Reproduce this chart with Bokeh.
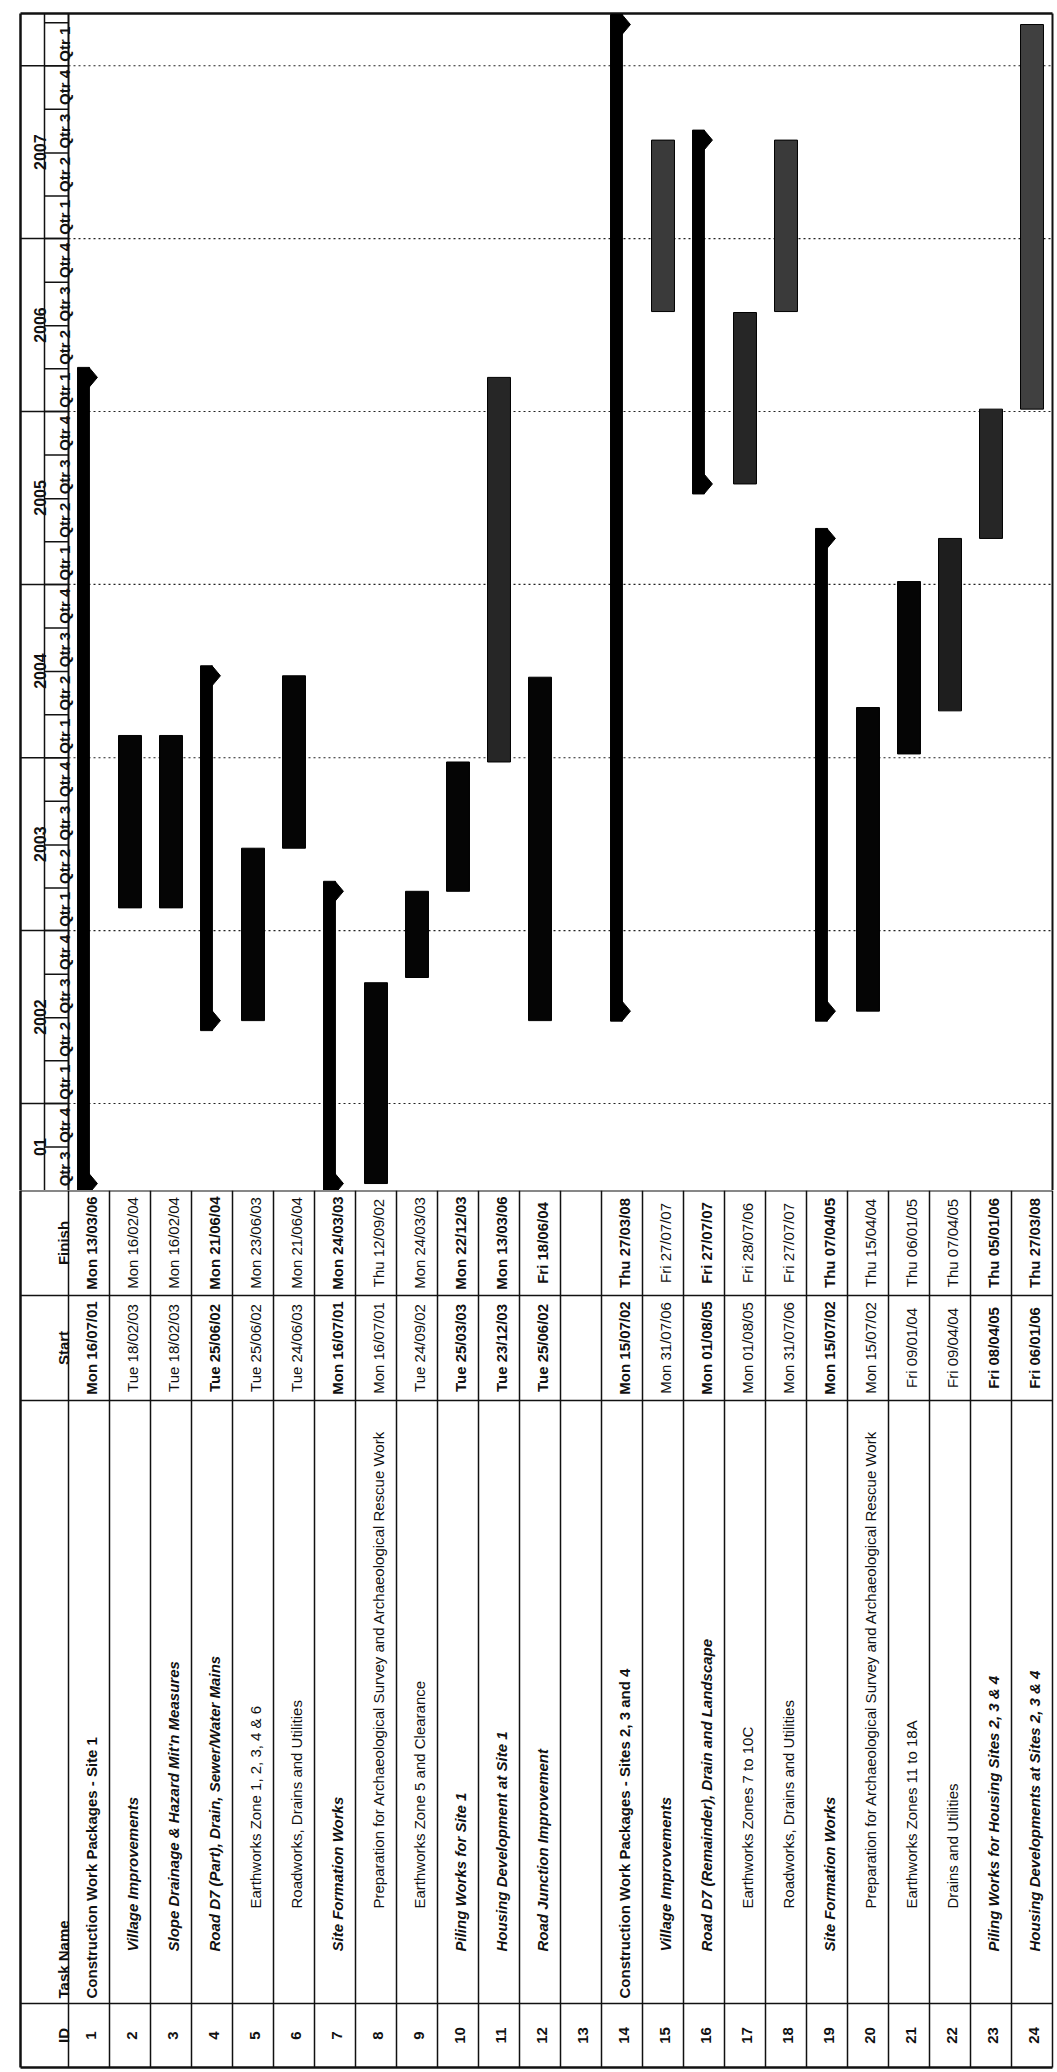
import math
from datetime import datetime, timedelta

from bokeh.plotting import figure
from bokeh.layouts import column
from bokeh.models import ColumnDataSource, Range1d
from bokeh.core.properties import value, field
from bokeh.embed import file_html
from bokeh.resources import INLINE

# ---------------- data ----------------
task_ids = [str(i) for i in range(1, 25)]
task_names = [
    "Construction Work Packages - Site 1",
    "Village Improvements",
    "Slope Drainage & Hazard Mit'n Measures",
    "Road D7 (Part), Drain, Sewer/Water Mains",
    "Earthworks Zone 1, 2, 3, 4 & 6",
    "Roadworks, Drains and Utilities",
    "Site Formation Works",
    "Preparation for Archaeological Survey and Archaeological Rescue Work",
    "Earthworks Zone 5 and Clearance",
    "Piling Works for Site 1",
    "Housing Development at Site 1",
    "Road Junction Improvement",
    "",
    "Construction Work Packages - Sites 2, 3 and 4",
    "Village Improvements",
    "Road D7 (Remainder), Drain and Landscape",
    "Earthworks Zones 7 to 10C",
    "Roadworks, Drains and Utilities",
    "Site Formation Works",
    "Preparation for Archaeological Survey and Archaeological Rescue Work",
    "Earthworks Zones 11 to 18A",
    "Drains and Utilities",
    "Piling Works for Housing Sites 2, 3 & 4",
    "Housing Developments at Sites 2, 3 & 4",
]
start_labels = [
    "Mon 16/07/01", "Tue 18/02/03", "Tue 18/02/03", "Tue 25/06/02", "Tue 25/06/02",
    "Tue 24/06/03", "Mon 16/07/01", "Mon 16/07/01", "Tue 24/09/02", "Tue 25/03/03",
    "Tue 23/12/03", "Tue 25/06/02", "", "Mon 15/07/02", "Mon 31/07/06",
    "Mon 01/08/05", "Mon 01/08/05", "Mon 31/07/06", "Mon 15/07/02", "Mon 15/07/02",
    "Fri 09/01/04", "Fri 09/04/04", "Fri 08/04/05", "Fri 06/01/06",
]
finish_labels = [
    "Mon 13/03/06", "Mon 16/02/04", "Mon 16/02/04", "Mon 21/06/04", "Mon 23/06/03",
    "Mon 21/06/04", "Mon 24/03/03", "Thu 12/09/02", "Mon 24/03/03", "Mon 22/12/03",
    "Mon 13/03/06", "Fri 18/06/04", "", "Thu 27/03/08", "Fri 27/07/07",
    "Fri 27/07/07", "Fri 28/07/06", "Fri 27/07/07", "Thu 07/04/05", "Thu 15/04/04",
    "Thu 06/01/05", "Thu 07/04/05", "Thu 05/01/06", "Thu 27/03/08",
]
is_summary = [1, 0, 0, 1, 0, 0, 1, 0, 0, 0, 0, 0, 0, 1, 0, 1, 0, 0, 1, 0, 0, 0, 0, 0]
outline_level = [1, 2, 2, 2, 3, 3, 2, 3, 3, 2, 2, 2, 0, 1, 2, 2, 3, 3, 2, 3, 3, 3, 2, 2]
date_bold = [1, 0, 0, 1, 0, 0, 1, 0, 0, 1, 1, 1, 0, 1, 0, 1, 0, 0, 1, 0, 0, 0, 1, 1]
year_labels = ["01", "2002", "2003", "2004", "2005", "2006", "2007"]
quarter_labels = ["Qtr 1", "Qtr 2", "Qtr 3", "Qtr 4"]
header_labels = ["Finish", "Start", "Task Name", "ID"]

# ---------------- styles / layout ----------------
FONT = value("Liberation Sans")
INK = "#111111"
BAR_SHADE = {11: "#262626", 15: "#3a3a3a", 17: "#262626", 18: "#3a3a3a",
             22: "#1e1e1e", 23: "#262626", 24: "#404040"}
W, H = 1057, 2072
GANTT_H = 1190
TABLE_H = H - GANTT_H
ROW_W = 41.0
ROW0_PX = 68.0


def xu(px):
    return 0.5 + (px - ROW0_PX) / ROW_W


PX_PER_DAY = 173.0 / 365.25
REF = datetime(2002, 1, 1)
REF_PX = 1103.0
EPOCH = datetime(1970, 1, 1)


def ms(dt):
    return (dt - EPOCH).total_seconds() * 1000.0


def px2date(px):
    return REF + timedelta(days=(REF_PX - px) / PX_PER_DAY)


def parse(lbl):
    return datetime.strptime(lbl.split()[1], "%d/%m/%y")


FRAME_L = xu(20)
TIER_X = xu(44)
RIGHT = 24.5
CAP = timedelta(days=10 / PX_PER_DAY)
TIP = 8 / ROW_W

x_range = Range1d(xu(0), xu(W))


def base_fig(h, yr):
    p = figure(width=W, height=h, x_range=x_range, y_range=yr,
               output_backend="svg", toolbar_location=None, min_border=0,
               x_axis_location=None, y_axis_location=None,
               background_fill_color="white", border_fill_color="white")
    p.outline_line_color = None
    p.xgrid.visible = False
    p.ygrid.visible = False
    return p


# ================= Gantt part =================
g_bottom = px2date(GANTT_H)
g_top = px2date(0)
g = base_fig(GANTT_H, Range1d(ms(g_bottom), ms(g_top)))
frame_top = px2date(13)
first_q = datetime(2001, 7, 1)

# dotted year lines
yl = [datetime(y, 1, 1) for y in range(2002, 2009)]
g.segment(x0=0.5, x1=RIGHT, y0=[ms(d) for d in yl], y1=[ms(d) for d in yl],
          line_color="#222222", line_width=1.2, line_dash="2 3")

# timescale header grid
g.segment(x0=[FRAME_L, TIER_X, 0.5, RIGHT], x1=[FRAME_L, TIER_X, 0.5, RIGHT],
          y0=ms(g_bottom - timedelta(days=30)), y1=ms(frame_top),
          line_color=INK, line_width=[2.5, 1.5, 2, 2])
g.segment(x0=FRAME_L, x1=RIGHT, y0=ms(frame_top), y1=ms(frame_top),
          line_color=INK, line_width=2.5)
g.segment(x0=FRAME_L, x1=0.5, y0=[ms(d) for d in yl], y1=[ms(d) for d in yl],
          line_color=INK, line_width=1.5)
q_starts = []
q_mid = []
q_text = []
for k in range(27):
    y = 2001 + (6 + 3 * k) // 12
    m = (6 + 3 * k) % 12 + 1
    qs = datetime(y, m, 1)
    ny = y + (m + 2) // 12
    nm = (m + 2) % 12 + 1
    qe = datetime(ny, nm, 1)
    q_starts.append(qe)
    q_mid.append(ms(qs + (qe - qs) / 2))
    q_text.append(quarter_labels[(m - 1) // 3])
g.segment(x0=TIER_X, x1=0.5, y0=[ms(d) for d in q_starts], y1=[ms(d) for d in q_starts],
          line_color=INK, line_width=1.5)
g.text(x=xu(64), y=q_mid, text=q_text, angle=math.pi / 2, text_align="center",
       text_baseline="alphabetic", text_font=FONT, text_font_size="15px",
       text_font_style="bold", text_color=INK)

# year labels centred on the visible part of each year
yr_mid = []
for k, lbl in enumerate(year_labels):
    y0 = max(datetime(2001 + k, 1, 1), first_q)
    y1 = datetime(2002 + k, 1, 1)
    yr_mid.append(ms(y0 + (y1 - y0) / 2))
g.text(x=xu(39), y=yr_mid, text=year_labels, angle=math.pi / 2, text_align="center",
       text_baseline="alphabetic", text_font=FONT, text_font_size="16px",
       text_font_style="bold", text_color=INK)

# bars
t_src = dict(left=[], right=[], bottom=[], top=[], color=[])
s_src = dict(left=[], right=[], bottom=[], top=[])
cap_xs, cap_ys = [], []
for i in range(24):
    if not start_labels[i]:
        continue
    row = i + 1
    s = parse(start_labels[i])
    f = parse(finish_labels[i]) + timedelta(days=1)
    if is_summary[i]:
        s_src["left"].append(row - 0.28)
        s_src["right"].append(row + 0.01)
        s_src["bottom"].append(ms(s - CAP))
        s_src["top"].append(ms(f + CAP))
        for d in (s, f):
            cap_xs.append([row + 0.0, row + 0.01 + TIP, row + 0.0])
            cap_ys.append([ms(d + CAP), ms(d), ms(d - CAP)])
    else:
        t_src["left"].append(row - 0.28)
        t_src["right"].append(row + 0.28)
        t_src["bottom"].append(ms(s))
        t_src["top"].append(ms(f))
        t_src["color"].append(BAR_SHADE.get(row, "#050505"))

g.quad(source=ColumnDataSource(t_src), left="left", right="right", bottom="bottom",
       top="top", fill_color="color", line_color="#000000", line_width=1)
g.quad(source=ColumnDataSource(s_src), left="left", right="right", bottom="bottom",
       top="top", fill_color="#000000", line_color="#000000", line_width=1)
g.patches(xs=cap_xs, ys=cap_ys, fill_color="#000000", line_color="#000000", line_width=1)

# ================= table part =================
TABLE_TOP = 1190
FIN_START = 1295
START_TASK = 1400
TASK_ID = 2003
TABLE_BOTTOM = 2067
t = base_fig(TABLE_H, Range1d(H, GANTT_H))

# grid lines
row_edges = [k + 0.5 for k in range(25)]
t.segment(x0=row_edges, x1=row_edges, y0=TABLE_TOP, y1=TABLE_BOTTOM,
          line_color=INK, line_width=1.5)
t.segment(x0=[FRAME_L], x1=[FRAME_L], y0=TABLE_TOP - 5, y1=TABLE_BOTTOM,
          line_color=INK, line_width=2.5)
hlines = [TABLE_TOP, FIN_START, START_TASK, TASK_ID, TABLE_BOTTOM]
t.segment(x0=FRAME_L, x1=RIGHT, y0=hlines, y1=hlines,
          line_color=INK, line_width=[2, 1.5, 1.5, 1.5, 2.5])

# header column
HB = xu(63)
t.text(x=[HB, HB, HB, HB],
       y=[(TABLE_TOP + FIN_START) / 2, (FIN_START + START_TASK) / 2, TASK_ID - 5,
          (TASK_ID + TABLE_BOTTOM) / 2],
       text=header_labels, angle=math.pi / 2,
       text_align=["center", "center", "left", "center"],
       text_baseline="alphabetic", text_font=FONT, text_font_size="15px",
       text_font_style="bold", text_color=INK)

rows = [i + 1 + 0.05 for i in range(24)]
indent = {0: 5, 1: 5, 2: 52, 3: 95}
name_style = {0: "normal", 1: "bold", 2: "bold italic", 3: "normal"}
names = ColumnDataSource(dict(
    x=rows, y=[TASK_ID - indent[l] for l in outline_level], text=task_names,
    style=[name_style[l] for l in outline_level]))
t.text(x="x", y="y", text="text", source=names, angle=math.pi / 2, text_align="left",
       text_baseline="alphabetic", text_font=FONT, text_font_size="15px",
       text_font_style=field("style"), text_color=INK)

dstyle = ["bold" if b else "normal" for b in date_bold]
dates = ColumnDataSource(dict(
    x=rows + rows,
    y=[(TABLE_TOP + FIN_START) / 2] * 24 + [(FIN_START + START_TASK) / 2] * 24,
    text=finish_labels + start_labels, style=dstyle + dstyle))
t.text(x="x", y="y", text="text", source=dates, angle=math.pi / 2, text_align="center",
       text_baseline="alphabetic", text_font=FONT, text_font_size="15px",
       text_font_style=field("style"), text_color=INK)

t.text(x=rows, y=[(TASK_ID + TABLE_BOTTOM) / 2] * 24, text=task_ids, angle=math.pi / 2,
       text_align="center", text_baseline="alphabetic", text_font=FONT,
       text_font_size="15px", text_font_style="bold", text_color=INK)

p = column(g, t, spacing=0)
open("out.html", "w").write(file_html(p, INLINE))
